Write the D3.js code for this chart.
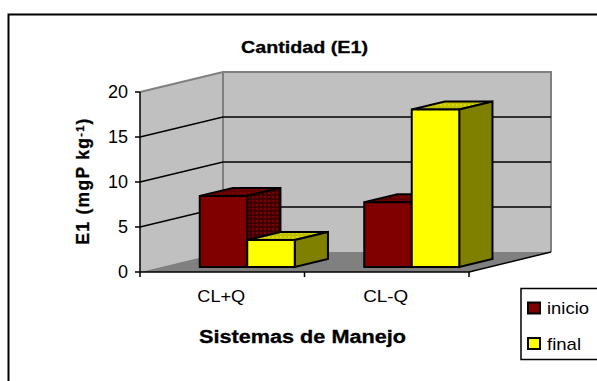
<!DOCTYPE html>
<html>
<head>
<meta charset="utf-8">
<script src="https://cdn.jsdelivr.net/npm/d3@7"></script>
<style>
  html, body { margin: 0; padding: 0; background: #fff; overflow: hidden; }
  svg { display: block; }
  text { font-family: "Liberation Sans", Arial, sans-serif; fill: #000; }
  .bold { font-weight: bold; stroke: #000; stroke-width: 0.3; }
</style>
</head>
<body>
<script>
var categories = ["CL+Q", "CL-Q"];
var seriesNames = ["inicio", "final"];
var inicio = [7.9, 7.2];
var finalValues = [3, 17.5];
var yTicks = [0, 5, 10, 15, 20];

var colors = {
  inicio: { front: "#800000", side: "url(#dotsDark)", top: "url(#dotsRed)" },
  final: { front: "#ffff00", side: "#808000", top: "url(#dotsYellow)" }
};

var width = 597, height = 381;

var svg = d3.select("body").append("svg")
    .attr("width", width)
    .attr("height", height);

// dithered fills for the tops and the shaded side
var defs = svg.append("defs");
function dither(id, bg, dot) {
  var p = defs.append("pattern")
      .attr("id", id)
      .attr("patternUnits", "userSpaceOnUse")
      .attr("width", 4).attr("height", 4);
  p.append("rect").attr("width", 4).attr("height", 4).attr("fill", bg);
  p.append("rect").attr("width", 2).attr("height", 2).attr("fill", dot);
}
dither("dotsDark", "#400000", "#800000");
dither("dotsRed", "#600000", "#800000");
dither("dotsYellow", "#c0c000", "#d8d800");

// floor coordinates -> screen, z runs 0 (front) to 1 (back wall)
var x = d3.scaleBand().domain(categories).range([0, 329]);
var barX = d3.scaleBand().domain(seriesNames).range([39, 134]);
var y = d3.scaleLinear().domain([0, 20]).range([0, 180]);
var x0 = 140, y0 = 272, depthX = 83, depthY = 20;

function pt(px, z, h) {
  return [x0 + px + z * depthX, y0 - z * depthY - h];
}
function poly(points) {
  return points.map(function(d) { return d.join(","); }).join(" ");
}

// outer frame
svg.append("path")
    .attr("d", "M8.5,381V14.5H597")
    .attr("fill", "none")
    .attr("stroke", "#000")
    .attr("stroke-width", 2);

// walls and floor
var topY = y(20);
svg.append("polygon")
    .attr("points", poly([pt(0, 0, 0), pt(0, 0, topY), pt(0, 1, topY), pt(0, 1, 0)]))
    .attr("fill", "#c0c0c0");
svg.append("polygon")
    .attr("points", poly([pt(0, 1, 0), pt(0, 1, topY), pt(328, 1, topY), pt(328, 1, 0)]))
    .attr("fill", "#c0c0c0");
svg.append("polygon")
    .attr("points", poly([pt(0, 0, 0), pt(0, 1, 0), pt(328, 1, 0), pt(329, 0, 0)]))
    .attr("fill", "#808080");

// wall edges
svg.append("polyline")
    .attr("points", poly([pt(0, 0, topY), pt(0, 1, topY), pt(328, 1, topY), pt(328, 1, 0)]))
    .attr("fill", "none")
    .attr("stroke", "#808080")
    .attr("stroke-width", 2);
svg.append("line")
    .attr("x1", pt(0, 1, 0)[0]).attr("y1", pt(0, 1, 0)[1])
    .attr("x2", pt(0, 1, topY)[0]).attr("y2", pt(0, 1, topY)[1])
    .attr("stroke", "#808080")
    .attr("stroke-width", 2);

// gridlines
yTicks.filter(function(d) { return d > 0 && d < 20; }).forEach(function(t) {
  svg.append("polyline")
      .attr("points", poly([pt(0, 0, y(t)), pt(0, 1, y(t)), pt(328, 1, y(t))]))
      .attr("fill", "none")
      .attr("stroke", "#000")
      .attr("stroke-width", 1.5);
});

// axes
svg.append("line")
    .attr("x1", x0).attr("y1", y0 - topY)
    .attr("x2", x0).attr("y2", y0)
    .attr("stroke", "#000").attr("stroke-width", 1.5);
svg.append("line")
    .attr("x1", x0).attr("y1", y0)
    .attr("x2", x0 + 329).attr("y2", y0)
    .attr("stroke", "#000").attr("stroke-width", 1.5);
svg.append("line")
    .attr("x1", pt(329, 0, 0)[0]).attr("y1", y0)
    .attr("x2", pt(328, 1, 0)[0]).attr("y2", pt(328, 1, 0)[1])
    .attr("stroke", "#000").attr("stroke-width", 1.5);

yTicks.forEach(function(t) {
  svg.append("line")
      .attr("x1", x0 - 5).attr("x2", x0)
      .attr("y1", y0 - y(t)).attr("y2", y0 - y(t))
      .attr("stroke", "#000").attr("stroke-width", 1.5);
  svg.append("text")
      .attr("x", 128)
      .attr("y", y0 - y(t) + 6)
      .attr("text-anchor", "end")
      .attr("font-size", 18)
      .text(t);
});

[0, x.bandwidth(), 2 * x.bandwidth()].forEach(function(d) {
  svg.append("line")
      .attr("x1", x0 + d).attr("x2", x0 + d)
      .attr("y1", y0).attr("y2", y0 + 5)
      .attr("stroke", "#000").attr("stroke-width", 1.5);
});

var categoryWidths = [48, 45];
categories.forEach(function(c, i) {
  svg.append("text")
      .attr("x", x0 + x(c) + x.bandwidth() / 2 - 1)
      .attr("y", 302)
      .attr("text-anchor", "middle")
      .attr("font-size", 16.5)
      .attr("textLength", categoryWidths[i])
      .attr("lengthAdjust", "spacingAndGlyphs")
      .text(c);
});

// bars, back to front: red then yellow in each group
var zFront = 0.25, zBack = 0.65;

function drawBar(c, name, value) {
  var left = x(c) + barX(name), right = left + barX.bandwidth(), h = y(value);
  var style = colors[name];
  var g = svg.append("g")
      .attr("stroke", "#000")
      .attr("stroke-width", 2)
      .attr("stroke-linejoin", "miter");
  g.append("polygon")
      .attr("points", poly([pt(left, zFront, h), pt(left, zBack, h), pt(right, zBack, h), pt(right, zFront, h)]))
      .attr("fill", style.top);
  g.append("polygon")
      .attr("points", poly([pt(right, zFront, 0), pt(right, zFront, h), pt(right, zBack, h), pt(right, zBack, 0)]))
      .attr("fill", style.side);
  g.append("polygon")
      .attr("points", poly([pt(left, zFront, 0), pt(left, zFront, h), pt(right, zFront, h), pt(right, zFront, 0)]))
      .attr("fill", style.front);
}

categories.forEach(function(c, i) {
  drawBar(c, "inicio", inicio[i]);
  drawBar(c, "final", finalValues[i]);
});

// titles
svg.append("text")
    .attr("class", "bold")
    .attr("x", 304.5).attr("y", 53)
    .attr("text-anchor", "middle")
    .attr("font-size", 17)
    .attr("textLength", 127)
    .attr("lengthAdjust", "spacingAndGlyphs")
    .text("Cantidad (E1)");

svg.append("text")
    .attr("class", "bold")
    .attr("x", 302.5).attr("y", 343)
    .attr("text-anchor", "middle")
    .attr("font-size", 18)
    .attr("textLength", 207)
    .attr("lengthAdjust", "spacingAndGlyphs")
    .text("Sistemas de Manejo");

var yTitle = svg.append("text")
    .attr("class", "bold")
    .attr("transform", "translate(89,181) rotate(-90)")
    .attr("text-anchor", "middle")
    .attr("font-size", 17.5)
    .attr("letter-spacing", 1.3);
yTitle.append("tspan").text("E1 (mgP kg");
yTitle.append("tspan").attr("font-size", 11).attr("dy", -5).text("-1");
yTitle.append("tspan").attr("dy", 5).text(")");

// legend
svg.append("rect")
    .attr("x", 521).attr("y", 288.5)
    .attr("width", 80).attr("height", 71)
    .attr("fill", "#fff")
    .attr("stroke", "#000")
    .attr("stroke-width", 1.5);

var legendY = d3.scalePoint().domain(seriesNames).range([308, 343.5]);
var legendWidths = [42, 34];
seriesNames.forEach(function(name, i) {
  svg.append("rect")
      .attr("x", 528).attr("y", legendY(name) - 5.5)
      .attr("width", 12).attr("height", 11)
      .attr("fill", colors[name].front)
      .attr("stroke", "#000")
      .attr("stroke-width", 2);
  svg.append("text")
      .attr("x", 547).attr("y", legendY(name) + 6)
      .attr("font-size", 17)
      .attr("textLength", legendWidths[i])
      .attr("lengthAdjust", "spacingAndGlyphs")
      .text(name);
});
</script>
</body>
</html>
